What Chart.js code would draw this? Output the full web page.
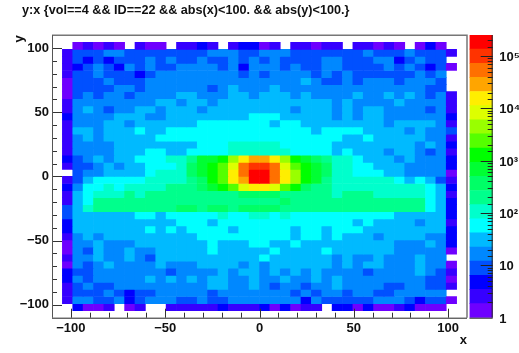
<!DOCTYPE html>
<html><head><meta charset="utf-8">
<style>html,body{margin:0;padding:0;background:#fff}canvas{position:absolute;top:0}#main{left:0}#bar{left:460px}</style>
<script src="https://cdn.jsdelivr.net/npm/chart.js@4/dist/chart.umd.min.js"></script>
</head><body>
<div style="position:absolute;left:0;top:0;width:519px;height:353px"><canvas id="main" width="519" height="353"></canvas></div>
<div style="position:absolute;left:460px;top:0;width:59px;height:353px"><canvas id="bar" width="59" height="353" style="left:0"></canvas></div>
<script>
// Entries per y bin (top row first), x bins from -104.5 to 104.5, 5.5 wide; 0 = empty.
const row01=[0,1,3,1,3,1,0,3,1,1,0,3,3,5,3,0,3,5,5,1,3,0,3,3,1,3,3,0,3,3,1,3,1,0,1,5,1,0];
const row02=[3,9,9,9,16,16,9,9,9,9,9,9,9,9,16,16,16,9,9,16,16,16,9,9,9,9,9,9,9,16,9,9,9,16,9,9,9,3];
const row03=[3,9,5,9,5,9,9,9,16,9,16,9,9,16,9,9,16,9,16,9,16,9,9,9,9,16,16,9,9,9,16,16,5,9,16,9,9,0];
const row04=[3,5,9,16,9,5,16,9,16,9,9,16,16,16,16,9,16,5,16,16,16,9,16,9,9,16,16,9,9,9,9,16,9,16,9,5,9,1];
const row05=[3,9,9,16,9,9,9,5,9,16,16,16,16,16,16,16,16,9,16,9,16,16,16,16,9,16,9,16,9,9,9,9,9,9,16,9,16,0];
const row06=[1,9,9,9,16,9,9,9,16,16,16,16,16,16,16,16,16,16,16,16,16,16,16,30,16,9,9,16,9,16,16,16,9,16,16,16,9,0];
const row07=[1,9,9,9,9,16,16,9,16,16,16,16,16,16,9,16,30,16,16,16,30,16,16,16,16,16,16,16,16,16,16,16,16,16,16,9,9,0];
const row08=[1,9,16,9,16,16,9,16,16,16,16,30,30,16,16,16,30,30,16,30,30,30,16,30,16,16,16,16,30,16,16,30,16,30,16,9,16,3];
const row09=[3,16,16,16,16,16,16,16,16,30,30,16,30,30,16,30,30,30,30,30,30,30,30,30,30,30,16,30,16,16,16,16,30,16,16,16,16,3];
const row10=[3,16,30,16,9,16,16,30,30,16,30,30,30,16,30,30,30,30,30,30,30,30,16,30,30,30,16,30,16,30,30,16,16,16,16,9,16,3];
const row11=[5,16,16,16,16,30,30,30,16,16,30,30,30,30,30,30,30,30,56,56,56,30,30,30,30,30,16,30,16,30,30,16,16,16,16,16,16,5];
const row12=[3,16,16,16,30,30,16,30,30,30,30,30,30,56,56,56,56,56,56,56,30,56,56,30,30,30,30,30,30,30,30,16,30,30,30,30,16,3];
const row13=[3,30,30,16,30,30,30,56,30,30,56,56,56,56,56,56,56,56,56,56,56,56,56,56,30,56,56,56,56,30,30,30,30,16,30,16,16,9];
const row14=[3,16,30,16,30,30,30,30,30,56,56,56,56,56,56,56,56,56,56,56,56,56,56,56,56,56,56,30,30,56,30,30,30,30,30,16,16,3];
const row15=[3,16,16,16,16,30,30,30,30,30,30,30,30,56,56,56,100,100,100,100,100,56,56,56,56,56,30,30,30,30,30,30,30,30,16,30,16,5];
const row16=[3,16,16,16,16,30,30,30,56,56,30,30,56,56,56,56,100,100,100,100,100,100,56,56,56,56,30,56,30,30,30,16,30,30,16,9,16,3];
const row17=[5,9,16,30,16,30,30,56,56,56,100,100,190,650,650,1200,4100,14000,26000,26000,14000,4100,1200,650,350,190,100,100,56,30,30,30,16,30,16,16,16,5];
const row18=[3,9,9,16,30,16,30,30,56,56,56,100,350,650,1200,2200,7500,48000,89000,89000,48000,7500,2200,1200,650,350,100,100,56,56,30,30,30,16,16,16,16,5];
const row19=[0,9,16,16,30,30,30,30,56,100,100,100,350,650,1200,2200,14000,48000,165000,165000,48000,14000,4100,1200,650,350,100,100,56,56,56,30,30,16,16,16,16,1];
const row20=[3,9,30,56,56,56,56,56,100,100,100,100,190,350,1200,2200,14000,26000,165000,165000,48000,14000,4100,1200,650,190,100,100,100,100,100,100,56,30,56,30,9,3];
const row21=[5,16,56,56,100,56,100,100,100,100,190,190,190,350,650,1200,2200,7500,14000,14000,7500,2200,1200,350,190,190,100,100,100,100,100,100,100,100,100,56,30,5];
const row22=[3,30,56,100,100,100,190,100,190,190,190,190,190,190,190,190,190,350,350,350,350,190,190,190,190,190,100,190,190,190,100,100,100,100,100,56,30,3];
const row23=[3,30,56,190,190,190,190,190,190,190,190,190,190,190,190,190,190,190,190,190,190,350,190,190,190,190,190,190,190,190,190,190,190,190,190,56,30,5];
const row24=[9,30,100,190,190,190,190,190,190,190,190,350,350,190,350,350,190,350,350,350,350,190,190,190,190,190,190,190,190,190,190,190,190,190,190,56,30,5];
const row25=[9,30,30,30,30,30,30,56,56,30,56,56,56,56,56,100,56,56,100,100,56,100,56,56,56,56,56,56,56,56,56,56,30,30,30,30,30,5];
const row26=[5,30,30,30,30,30,30,30,30,30,30,56,56,56,30,56,56,56,56,56,56,56,56,56,56,56,56,56,30,56,30,30,30,30,16,30,30,3];
const row27=[5,30,30,30,30,30,30,30,56,30,56,30,56,56,56,56,30,56,56,56,56,56,30,56,56,30,56,56,56,30,30,30,30,30,30,30,30,5];
const row28=[3,16,30,16,30,30,30,30,30,30,30,30,30,56,56,56,56,56,56,56,56,56,30,56,56,30,56,30,30,30,16,30,30,30,30,16,16,5];
const row29=[1,16,16,30,16,16,16,30,30,30,30,30,30,30,56,30,30,30,56,56,30,30,56,30,30,30,30,30,30,30,30,30,16,16,16,30,16,5];
const row30=[1,16,9,30,16,16,30,16,16,30,30,30,30,30,56,30,30,30,30,30,56,30,30,30,30,56,30,30,30,30,30,30,16,16,16,16,16,1];
const row31=[3,16,16,30,16,16,30,16,9,30,30,30,30,30,30,30,30,30,30,56,30,30,30,30,30,30,16,30,16,16,30,16,16,16,30,16,16,0];
const row32=[1,16,9,16,30,16,16,16,16,30,16,16,16,30,30,30,30,16,30,16,30,30,30,30,30,30,16,30,16,30,30,16,16,16,30,16,16,1];
const row33=[5,9,9,16,16,16,16,16,16,16,9,16,16,16,16,30,16,30,30,16,30,16,30,16,30,16,16,16,16,9,16,16,16,16,30,16,9,3];
const row34=[5,16,9,16,16,16,16,16,30,16,30,16,30,16,30,30,16,16,30,16,16,30,16,16,30,16,30,16,16,16,16,16,16,16,16,9,9,1];
const row35=[3,9,16,9,9,16,16,16,16,16,16,16,16,16,30,30,16,16,30,16,9,16,16,9,16,16,30,16,16,16,16,9,9,16,16,9,9,3];
const row36=[3,9,9,9,16,9,5,9,9,16,16,16,16,16,9,16,16,16,16,16,16,16,9,16,9,16,16,9,16,16,9,9,16,16,16,16,16,0];
const row37=[3,16,16,9,9,16,5,9,16,16,16,9,9,16,9,9,16,16,16,16,16,16,16,5,16,9,9,9,9,9,16,16,16,9,5,9,9,1];
const row38=[0,5,1,1,3,0,1,3,0,0,3,3,3,3,3,5,3,3,3,5,1,5,1,3,3,0,5,5,1,5,1,1,3,5,1,1,1,0];
const rows=[row01,row02,row03,row04,row05,row06,row07,row08,row09,row10,row11,row12,row13,row14,row15,row16,row17,row18,row19,row20,row21,row22,row23,row24,row25,row26,row27,row28,row29,row30,row31,row32,row33,row34,row35,row36,row37,row38];
const binWidth=5.5, axisMin=-110, axisMax=110;
const zMax=Math.pow(10,5.4);
const palette=['#6e00ff','#3600ff','#0000ff','#0050ff','#0088ff','#00baff','#00ffff','#00ffcc','#00ff8c','#00ff66','#00ff33','#00ff00','#55ff00','#99ff00','#ddff00','#ffee00','#ffa500','#ff7000','#ff3300','#ff0000'];
const titleText='y:x {vol==4 && ID==22 && abs(x)<100. && abs(y)<100.}';
const sup={2:'\u00b2',3:'\u00b3',4:'\u2074',5:'\u2075'};
const FONT='"Liberation Sans", Arial, sans-serif';
const level=v=>Math.min(palette.length-1,Math.floor(Math.log10(v)/5.4*palette.length));
const datasets=rows.map((row,r)=>{
  const hi=axisMax-binWidth*(r+1), lo=hi-binWidth;
  const data=[];
  row.forEach((v,c)=>{ if(v>0) data.push({x:axisMin+binWidth*(c+1.5),y:[lo,hi],v}); });
  return {label:'y'+r,data,grouped:false,borderWidth:0,barPercentage:1,categoryPercentage:1,
    backgroundColor:ctx=>ctx.raw?palette[level(ctx.raw.v)]:'transparent'};
});
const inTicks={id:'inTicks',
 afterLayout(chart){ chart.titleBlock.left=22; },
 afterDatasetsDraw(chart){
  const {ctx,chartArea:a,scales:{x,y}}=chart;
  ctx.save();ctx.lineWidth=1;ctx.strokeStyle='#333';
  ctx.beginPath();
  x.ticks.forEach(t=>{const p=Math.round(x.getPixelForValue(t.value))+.5,len=t.value%50===0?9:5;ctx.moveTo(p,a.bottom);ctx.lineTo(p,a.bottom-len);});
  y.ticks.forEach(t=>{const p=Math.round(y.getPixelForValue(t.value))+.5,len=t.value%50===0?10:5;ctx.moveTo(a.left,p);ctx.lineTo(a.left+len,p);});
  ctx.stroke();
  ctx.lineWidth=1.5;ctx.strokeStyle='#777';ctx.beginPath();
  ctx.moveTo(a.left,a.top);ctx.lineTo(a.right,a.top);ctx.lineTo(a.right,a.bottom);ctx.stroke();
  ctx.lineWidth=1;ctx.strokeStyle='#555';ctx.beginPath();ctx.moveTo(a.left+.5,a.top);ctx.lineTo(a.left+.5,a.bottom);ctx.stroke();
  ctx.strokeStyle='#222';ctx.beginPath();ctx.moveTo(a.left,a.bottom+.5);ctx.lineTo(a.right,a.bottom+.5);ctx.stroke();
  ctx.restore();
}};
const tickFont={family:FONT,size:13,weight:'bold'};
const axisLabel=v=>v%50===0?String(v).replace('-','\u2212'):'';
const keepInner=s=>{s.ticks=s.ticks.filter(t=>Math.abs(t.value)<=100);};
new Chart(document.getElementById('main'),{
  type:'bar',data:{datasets},plugins:[inTicks],
  options:{responsive:false,animation:false,events:[],
    layout:{padding:{left:0,right:52,top:0,bottom:0}},
    plugins:{legend:{display:false},tooltip:{enabled:false},
      title:{display:true,text:titleText,align:'start',color:'#111',font:{family:FONT,size:12.65,weight:'bold'},padding:{top:3,bottom:17}}},
    scales:{
      x:{type:'linear',min:axisMin,max:axisMax,offset:false,grid:{display:false,drawTicks:false},border:{display:false},
        title:{display:true,text:'x',align:'end',color:'#111',font:tickFont,padding:{top:0,bottom:5}},
        afterBuildTicks:keepInner,afterFit:s=>{s.height=35.3;},
        ticks:{stepSize:10,autoSkip:false,maxRotation:0,minRotation:0,padding:3,color:'#111',font:tickFont,callback:axisLabel}},
      y:{type:'linear',min:axisMin,max:axisMax,grid:{display:false,drawTicks:false},border:{display:false},
        title:{display:true,text:'y',align:'end',color:'#111',font:tickFont,padding:{top:12,bottom:0}},
        afterBuildTicks:keepInner,afterFit:s=>{s.width=52;},
        ticks:{stepSize:10,autoSkip:false,padding:3,color:'#111',font:tickFont,callback:axisLabel}}
    }}
});
const zEdges=palette.map((c,k)=>[Math.pow(zMax,k/palette.length),Math.pow(zMax,(k+1)/palette.length)]);
const barTicks={id:'barTicks',afterDatasetsDraw(chart){
  const {ctx,chartArea:a,scales:{y}}=chart;
  ctx.save();ctx.strokeStyle='#222';ctx.lineWidth=1;ctx.beginPath();
  y.ticks.forEach(t=>{const d=Math.log10(t.value),p=Math.round(y.getPixelForValue(t.value))+.5;
    if(t.value<=1||t.value>=zMax)return;
    const len=Math.abs(d-Math.round(d))<1e-6?12:5;ctx.moveTo(a.right,p);ctx.lineTo(a.right-len,p);});
  ctx.moveTo(a.right-.5,a.top);ctx.lineTo(a.right-.5,a.bottom);
  ctx.moveTo(a.left,a.bottom+.5);ctx.lineTo(a.right,a.bottom+.5);ctx.stroke();
  ctx.restore();
}};
new Chart(document.getElementById('bar'),{
  type:'bar',
  data:{labels:['z'],datasets:zEdges.map((e,k)=>({label:'z'+k,data:[e],grouped:false,borderWidth:0,barPercentage:1,categoryPercentage:1,backgroundColor:palette[k]}))},
  plugins:[barTicks],
  options:{responsive:false,animation:false,events:[],
    layout:{padding:{left:9.5,right:0,top:35,bottom:35.3}},
    plugins:{legend:{display:false},tooltip:{enabled:false},title:{display:false}},
    scales:{
      x:{display:false},
      y:{type:'logarithmic',position:'right',min:1,max:zMax,grid:{display:false,drawTicks:false},border:{display:false},
        afterFit:s=>{s.width=26.3;},
        ticks:{autoSkip:false,padding:6.5,labelOffset:1.5,color:'#111',font:tickFont,
          callback:v=>{const d=Math.log10(v);if(Math.abs(d-Math.round(d))>1e-6)return '';const n=Math.round(d);return n===0?'1':n===1?'10':'10'+sup[n];}}}
    }}
});
</script>
</body></html>
